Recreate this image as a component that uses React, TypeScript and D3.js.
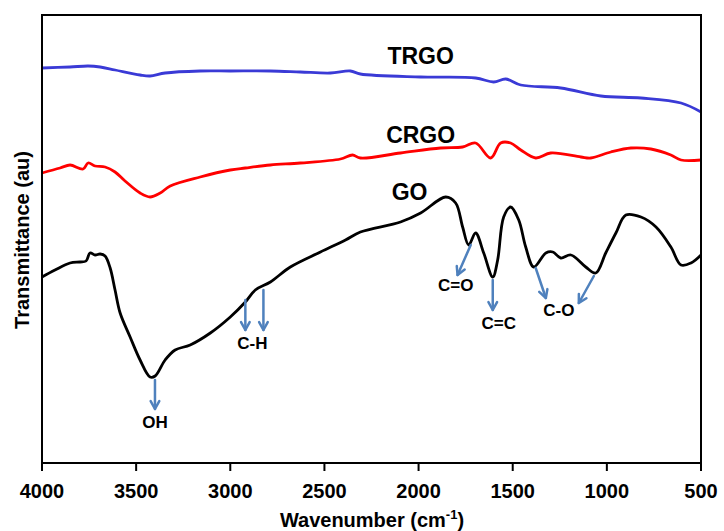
import React from "react"
import * as d3 from "d3"

// wavenumber (cm-1) / transmittance (au, offset for display)
const trgoWn = [4000, 3851, 3755, 3691, 3612, 3479, 3426, 3346, 3160, 3000, 2787, 2628, 2468, 2362, 2309, 1989, 1697, 1601, 1537, 1457, 1245, 1032, 819, 606, 500]
const trgoT = [39.5, 39.6, 39.7, 39.6, 39.3, 38.8, 38.7, 39.0, 39.2, 39.2, 39.2, 39.1, 39.0, 39.2, 38.9, 38.6, 38.5, 38.1, 38.4, 37.8, 37.5, 36.7, 36.5, 36.0, 35.1]

const crgoWn = [4000, 3904, 3851, 3782, 3755, 3718, 3665, 3612, 3559, 3479, 3426, 3372, 3319, 3160, 3000, 2920, 2787, 2628, 2415, 2351, 2309, 2096, 1883, 1766, 1697, 1617, 1564, 1511, 1457, 1378, 1298, 1138, 1085, 979, 872, 766, 660, 606, 500]
const crgoT = [29.0, 29.5, 29.8, 29.4, 30.0, 29.7, 29.6, 29.1, 28.2, 27.0, 26.6, 27.0, 27.7, 28.6, 29.3, 29.5, 29.8, 30.0, 30.4, 30.8, 30.5, 31.0, 31.5, 31.6, 32.0, 30.5, 32.0, 32.0, 31.3, 30.5, 31.0, 30.6, 30.5, 31.1, 31.5, 31.4, 30.8, 30.3, 30.3]

const goWn = [4000, 3931, 3851, 3798, 3766, 3745, 3718, 3691, 3665, 3638, 3612, 3585, 3532, 3479, 3426, 3399, 3346, 3293, 3213, 3106, 3000, 2920, 2867, 2787, 2681, 2521, 2388, 2309, 2096, 1989, 1856, 1803, 1766, 1734, 1697, 1654, 1606, 1580, 1548, 1511, 1468, 1431, 1388, 1324, 1287, 1245, 1191, 1112, 1059, 1006, 952, 899, 819, 739, 660, 606, 553, 500]
const goT = [18.6, 19.3, 20.0, 20.1, 20.2, 21.0, 20.8, 20.9, 20.7, 19.5, 17.3, 15.0, 12.6, 10.3, 8.6, 8.7, 10.3, 11.3, 11.8, 13.0, 14.6, 16.1, 17.3, 18.1, 19.6, 21.1, 22.3, 23.1, 24.1, 25.0, 26.6, 26.0, 23.6, 21.8, 23.0, 21.0, 18.6, 20.3, 24.6, 25.6, 24.3, 21.6, 19.6, 21.0, 21.1, 20.5, 20.8, 19.6, 19.0, 21.0, 23.0, 24.8, 24.6, 23.6, 21.6, 19.8, 20.0, 20.8]

const xTicks = [4000, 3500, 3000, 2500, 2000, 1500, 1000, 500]

const seriesNames = ["TRGO", "CRGO", "GO"]
const seriesColors = ["#3a3ad6", "#ff0000", "#000000"]
const seriesWn = [trgoWn, crgoWn, goWn]
const seriesT = [trgoT, crgoT, goT]
const nameAt = [[1989, 40.7], [1989, 32.8], [2048, 27.1]]

// band assignments: arrow [wn1, t1, wn2, t2], label position
const bandLabels = ["OH", "C-H", "C=O", "C=C", "C-O"]
const bandLabelAt = [[3400, 4.1], [2883, 12.0], [1803, 17.8], [1574, 14.0], [1255, 15.3]]
const bandArrows = [
  [[3400, 8.3, 3400, 5.4]],
  [[2920, 16.3, 2920, 13.3], [2824, 17.3, 2824, 13.3]],
  [[1723, 21.8, 1793, 18.8]],
  [[1606, 18.3, 1606, 15.3]],
  [[1378, 19.5, 1324, 16.5], [1069, 18.7, 1149, 16.0]],
]

const W = 724
const H = 531
const margin = { top: 15, right: 23, bottom: 68, left: 42 }
const font = "'Liberation Sans', Arial, sans-serif"
const arrowColor = "#4f81bd"

export default function App() {
  const x = d3.scaleLinear().domain([4000, 500]).range([margin.left, W - margin.right])
  const y = d3.scaleLinear().domain([0, 44.8]).range([H - margin.bottom, margin.top])
  const line = d3.line<[number, number]>()
    .x(d => x(d[0]))
    .y(d => y(d[1]))
    .curve(d3.curveCatmullRom.alpha(0.5))

  const bottom = H - margin.bottom

  const arrow = (a: number[], key: string) => {
    const x1 = x(a[0]), y1 = y(a[1]), x2 = x(a[2]), y2 = y(a[3])
    const ang = Math.atan2(y2 - y1, x2 - x1)
    const hl = 9, spread = 0.5
    const hx1 = x2 - hl * Math.cos(ang - spread), hy1 = y2 - hl * Math.sin(ang - spread)
    const hx2 = x2 - hl * Math.cos(ang + spread), hy2 = y2 - hl * Math.sin(ang + spread)
    return (
      <g key={key} stroke={arrowColor} strokeWidth={2.5} fill="none" strokeLinecap="round" strokeLinejoin="round">
        <line x1={x1} y1={y1} x2={x2} y2={y2} />
        <polyline points={`${hx1},${hy1} ${x2},${y2} ${hx2},${hy2}`} />
      </g>
    )
  }

  return (
    <svg width={W} height={H} style={{ position: "absolute", left: 0, top: 0 }} fontFamily={font}>
      <rect width={W} height={H} fill="#fff" />
      {seriesNames.map((name, i) => (
        <path
          key={name}
          d={line(seriesWn[i].map((w, j) => [w, seriesT[i][j]] as [number, number])) || ""}
          fill="none"
          stroke={seriesColors[i]}
          strokeWidth={2.8}
          strokeLinejoin="round"
        />
      ))}
      <rect
        x={margin.left}
        y={margin.top}
        width={W - margin.left - margin.right}
        height={bottom - margin.top}
        fill="none"
        stroke="#000"
        strokeWidth={2}
      />
      {xTicks.map(t => (
        <g key={t}>
          <line x1={x(t)} x2={x(t)} y1={bottom} y2={bottom + 8} stroke="#000" strokeWidth={2} />
          <text x={x(t)} y={498} textAnchor="middle" fontSize={20} fontWeight="bold">{t}</text>
        </g>
      ))}
      <text x={372} y={527} textAnchor="middle" fontSize={20} fontWeight="bold">
        Wavenumber (cm<tspan dy={-8} fontSize={13}>-1</tspan><tspan dy={8}>)</tspan>
      </text>
      <text
        transform={`translate(29, ${240}) rotate(-90)`}
        textAnchor="middle"
        fontSize={20}
        fontWeight="bold"
      >Transmittance (au)</text>
      {seriesNames.map((name, i) => (
        <text key={name} x={x(nameAt[i][0])} y={y(nameAt[i][1])} textAnchor="middle" dominantBaseline="central" fontSize={23} fontWeight="bold">{name}</text>
      ))}
      {bandArrows.map((arrs, i) => arrs.map((a, j) => arrow(a, `${i}-${j}`)))}
      {bandLabels.map((lb, i) => (
        <text key={lb} x={x(bandLabelAt[i][0])} y={y(bandLabelAt[i][1])} textAnchor="middle" dominantBaseline="central" fontSize={17} fontWeight="bold">{lb}</text>
      ))}
    </svg>
  )
}
